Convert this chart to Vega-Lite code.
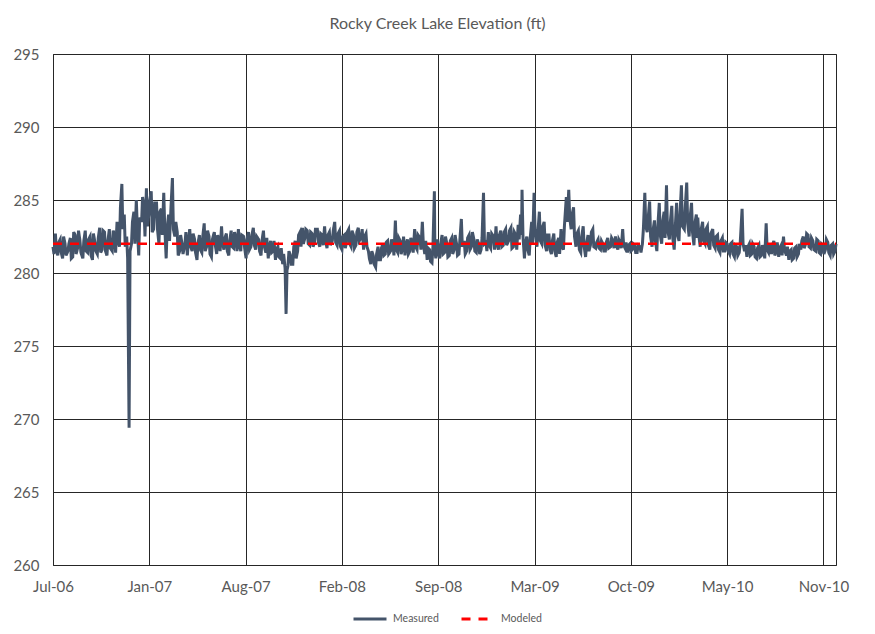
{
"$schema":"https://vega.github.io/schema/vega-lite/v6.json",
"width":783,"height":511,
"autosize":"none",
"padding":{"left":53,"top":54,"right":39,"bottom":69},
"background":"white",
"title":{"text":"Rocky Creek Lake Elevation (ft)","font":"Lato","fontSize":16,"fontWeight":"normal","color":"#595959","offset":15,"dx":-7},
"config":{"view":{"stroke":"#262626","strokeWidth":1},
"axis":{"gridColor":"#262626","gridWidth":1,"gridOpacity":1,"ticks":false,"domain":false,"labelFont":"Lato","labelFontSize":15,"labelColor":"#595959","title":null},
"legend":{"labelFont":"Lato","labelFontSize":10.5,"labelColor":"#595959"}},
"datasets":{
"measured":[
{"date":"2006-07-01","v":281.8},{"date":"2006-07-03","v":281.3},{"date":"2006-07-06","v":282.7},{"date":"2006-07-08","v":281.6},{"date":"2006-07-11","v":281.2},{"date":"2006-07-13","v":282.1},{"date":"2006-07-16","v":282.3},{"date":"2006-07-18","v":281.4},{"date":"2006-07-21","v":281.0},{"date":"2006-07-23","v":282.5},{"date":"2006-07-26","v":282.0},{"date":"2006-07-28","v":281.2},
{"date":"2006-08-01","v":281.5},{"date":"2006-08-03","v":282.0},{"date":"2006-08-06","v":282.4},{"date":"2006-08-08","v":281.0},{"date":"2006-08-11","v":281.1},{"date":"2006-08-13","v":282.8},{"date":"2006-08-16","v":282.6},{"date":"2006-08-18","v":281.3},{"date":"2006-08-21","v":281.7},{"date":"2006-08-23","v":282.9},{"date":"2006-08-26","v":282.2},{"date":"2006-08-28","v":281.4},
{"date":"2006-09-01","v":281.0},{"date":"2006-09-03","v":282.2},{"date":"2006-09-06","v":282.9},{"date":"2006-09-08","v":281.5},{"date":"2006-09-11","v":281.4},{"date":"2006-09-13","v":282.3},{"date":"2006-09-16","v":282.5},{"date":"2006-09-18","v":281.2},{"date":"2006-09-21","v":280.9},{"date":"2006-09-23","v":282.7},{"date":"2006-09-26","v":282.1},{"date":"2006-09-28","v":281.5},
{"date":"2006-10-01","v":281.3},{"date":"2006-10-03","v":282.4},{"date":"2006-10-06","v":283.1},{"date":"2006-10-08","v":281.4},{"date":"2006-10-11","v":281.6},{"date":"2006-10-13","v":282.9},{"date":"2006-10-16","v":282.8},{"date":"2006-10-18","v":281.5},{"date":"2006-10-21","v":281.2},{"date":"2006-10-23","v":282.2},{"date":"2006-10-26","v":283.0},{"date":"2006-10-28","v":281.7},
{"date":"2006-11-01","v":281.5},{"date":"2006-11-03","v":282.9},{"date":"2006-11-06","v":282.6},{"date":"2006-11-08","v":281.4},{"date":"2006-11-11","v":283.5},{"date":"2006-11-13","v":282.2},{"date":"2006-11-16","v":281.8},{"date":"2006-11-18","v":284.5},{"date":"2006-11-21","v":286.1},{"date":"2006-11-23","v":283.0},{"date":"2006-11-26","v":284.0},{"date":"2006-11-28","v":281.8},
{"date":"2006-12-01","v":282.5},{"date":"2006-12-03","v":281.0},{"date":"2006-12-06","v":269.4},{"date":"2006-12-08","v":281.5},{"date":"2006-12-11","v":282.0},{"date":"2006-12-13","v":283.5},{"date":"2006-12-16","v":284.2},{"date":"2006-12-18","v":282.0},{"date":"2006-12-21","v":285.0},{"date":"2006-12-23","v":283.2},{"date":"2006-12-26","v":281.2},{"date":"2006-12-28","v":283.8},
{"date":"2007-01-01","v":283.5},{"date":"2007-01-03","v":285.2},{"date":"2007-01-06","v":284.5},{"date":"2007-01-08","v":282.5},{"date":"2007-01-11","v":285.8},{"date":"2007-01-13","v":283.2},{"date":"2007-01-16","v":284.0},{"date":"2007-01-18","v":285.0},{"date":"2007-01-21","v":285.6},{"date":"2007-01-23","v":282.8},{"date":"2007-01-26","v":283.0},{"date":"2007-01-28","v":284.8},
{"date":"2007-02-01","v":284.8},{"date":"2007-02-03","v":283.0},{"date":"2007-02-06","v":282.0},{"date":"2007-02-08","v":284.2},{"date":"2007-02-11","v":284.4},{"date":"2007-02-13","v":282.6},{"date":"2007-02-16","v":285.5},{"date":"2007-02-18","v":283.2},{"date":"2007-02-21","v":281.0},{"date":"2007-02-23","v":283.0},{"date":"2007-02-26","v":284.0},{"date":"2007-02-28","v":282.2},
{"date":"2007-03-01","v":283.0},{"date":"2007-03-03","v":284.5},{"date":"2007-03-06","v":286.5},{"date":"2007-03-08","v":283.0},{"date":"2007-03-11","v":282.5},{"date":"2007-03-13","v":283.5},{"date":"2007-03-16","v":282.8},{"date":"2007-03-18","v":281.2},{"date":"2007-03-21","v":281.5},{"date":"2007-03-23","v":282.6},{"date":"2007-03-26","v":282.0},{"date":"2007-03-28","v":281.3},
{"date":"2007-04-01","v":282.0},{"date":"2007-04-03","v":282.8},{"date":"2007-04-06","v":281.2},{"date":"2007-04-08","v":282.1},{"date":"2007-04-11","v":283.0},{"date":"2007-04-13","v":281.8},{"date":"2007-04-16","v":281.5},{"date":"2007-04-18","v":282.7},{"date":"2007-04-21","v":282.3},{"date":"2007-04-23","v":281.4},{"date":"2007-04-26","v":280.9},{"date":"2007-04-28","v":282.0},
{"date":"2007-05-01","v":282.6},{"date":"2007-05-03","v":281.6},{"date":"2007-05-06","v":281.4},{"date":"2007-05-08","v":282.5},{"date":"2007-05-11","v":283.4},{"date":"2007-05-13","v":281.5},{"date":"2007-05-16","v":281.8},{"date":"2007-05-18","v":282.9},{"date":"2007-05-21","v":282.5},{"date":"2007-05-23","v":281.3},{"date":"2007-05-26","v":281.1},{"date":"2007-05-28","v":282.3},
{"date":"2007-06-01","v":282.8},{"date":"2007-06-03","v":281.9},{"date":"2007-06-06","v":281.3},{"date":"2007-06-08","v":282.6},{"date":"2007-06-11","v":282.2},{"date":"2007-06-13","v":281.5},{"date":"2007-06-16","v":283.2},{"date":"2007-06-18","v":282.0},{"date":"2007-06-21","v":281.6},{"date":"2007-06-23","v":282.4},{"date":"2007-06-26","v":282.7},{"date":"2007-06-28","v":281.5},
{"date":"2007-07-01","v":281.2},{"date":"2007-07-03","v":282.2},{"date":"2007-07-06","v":282.9},{"date":"2007-07-08","v":281.8},{"date":"2007-07-11","v":281.7},{"date":"2007-07-13","v":282.8},{"date":"2007-07-16","v":282.4},{"date":"2007-07-18","v":281.5},{"date":"2007-07-21","v":283.0},{"date":"2007-07-23","v":281.9},{"date":"2007-07-26","v":281.5},{"date":"2007-07-28","v":282.6},
{"date":"2007-08-01","v":282.5},{"date":"2007-08-03","v":281.7},{"date":"2007-08-06","v":281.0},{"date":"2007-08-08","v":282.3},{"date":"2007-08-11","v":282.8},{"date":"2007-08-13","v":281.6},{"date":"2007-08-16","v":281.8},{"date":"2007-08-18","v":282.6},{"date":"2007-08-21","v":283.1},{"date":"2007-08-23","v":281.9},{"date":"2007-08-26","v":281.6},{"date":"2007-08-28","v":282.5},
{"date":"2007-09-01","v":282.3},{"date":"2007-09-03","v":281.5},{"date":"2007-09-06","v":281.2},{"date":"2007-09-08","v":282.2},{"date":"2007-09-11","v":282.9},{"date":"2007-09-13","v":281.8},{"date":"2007-09-16","v":281.4},{"date":"2007-09-18","v":282.4},{"date":"2007-09-21","v":281.0},{"date":"2007-09-23","v":281.8},{"date":"2007-09-26","v":282.2},{"date":"2007-09-28","v":281.4},
{"date":"2007-10-01","v":281.5},{"date":"2007-10-03","v":282.2},{"date":"2007-10-06","v":280.9},{"date":"2007-10-08","v":281.6},{"date":"2007-10-11","v":281.8},{"date":"2007-10-13","v":281.1},{"date":"2007-10-16","v":281.0},{"date":"2007-10-18","v":281.7},{"date":"2007-10-21","v":280.6},{"date":"2007-10-23","v":281.3},{"date":"2007-10-26","v":280.3},{"date":"2007-10-28","v":277.2},{"date":"2007-10-30","v":280.2},
{"date":"2007-11-01","v":280.5},{"date":"2007-11-03","v":281.5},{"date":"2007-11-06","v":281.2},{"date":"2007-11-08","v":280.6},{"date":"2007-11-11","v":280.6},{"date":"2007-11-13","v":281.8},{"date":"2007-11-16","v":282.2},{"date":"2007-11-18","v":281.0},{"date":"2007-11-21","v":281.5},{"date":"2007-11-23","v":282.6},{"date":"2007-11-26","v":282.8},{"date":"2007-11-28","v":281.8},
{"date":"2007-12-01","v":283.1},{"date":"2007-12-03","v":282.0},{"date":"2007-12-06","v":282.4},{"date":"2007-12-08","v":283.0},{"date":"2007-12-11","v":282.9},{"date":"2007-12-13","v":282.0},{"date":"2007-12-16","v":281.9},{"date":"2007-12-18","v":282.8},{"date":"2007-12-21","v":282.7},{"date":"2007-12-23","v":281.8},{"date":"2007-12-26","v":282.1},{"date":"2007-12-28","v":283.0},
{"date":"2008-01-01","v":283.0},{"date":"2008-01-03","v":282.1},{"date":"2008-01-06","v":281.8},{"date":"2008-01-08","v":282.7},{"date":"2008-01-11","v":282.6},{"date":"2008-01-13","v":281.9},{"date":"2008-01-16","v":283.2},{"date":"2008-01-18","v":282.2},{"date":"2008-01-21","v":281.7},{"date":"2008-01-23","v":282.6},{"date":"2008-01-26","v":282.8},{"date":"2008-01-28","v":281.9},
{"date":"2008-02-01","v":282.2},{"date":"2008-02-03","v":282.9},{"date":"2008-02-06","v":283.5},{"date":"2008-02-08","v":282.1},{"date":"2008-02-11","v":281.9},{"date":"2008-02-13","v":282.7},{"date":"2008-02-16","v":282.9},{"date":"2008-02-18","v":281.8},{"date":"2008-02-21","v":281.6},{"date":"2008-02-23","v":282.5},{"date":"2008-02-26","v":282.6},{"date":"2008-02-28","v":281.7},
{"date":"2008-03-01","v":282.0},{"date":"2008-03-03","v":282.8},{"date":"2008-03-06","v":283.0},{"date":"2008-03-08","v":282.0},{"date":"2008-03-11","v":281.8},{"date":"2008-03-13","v":282.9},{"date":"2008-03-16","v":282.6},{"date":"2008-03-18","v":281.7},{"date":"2008-03-21","v":281.9},{"date":"2008-03-23","v":282.8},{"date":"2008-03-26","v":283.1},{"date":"2008-03-28","v":282.2},
{"date":"2008-04-01","v":282.4},{"date":"2008-04-03","v":283.0},{"date":"2008-04-06","v":281.6},{"date":"2008-04-08","v":282.5},{"date":"2008-04-11","v":282.7},{"date":"2008-04-13","v":281.8},{"date":"2008-04-16","v":281.5},{"date":"2008-04-18","v":281.0},{"date":"2008-04-21","v":280.6},{"date":"2008-04-23","v":281.5},{"date":"2008-04-26","v":281.2},{"date":"2008-04-28","v":280.6},
{"date":"2008-05-01","v":280.4},{"date":"2008-05-03","v":281.3},{"date":"2008-05-06","v":281.8},{"date":"2008-05-08","v":280.9},{"date":"2008-05-11","v":280.9},{"date":"2008-05-13","v":281.7},{"date":"2008-05-16","v":282.0},{"date":"2008-05-18","v":281.2},{"date":"2008-05-21","v":281.3},{"date":"2008-05-23","v":282.1},{"date":"2008-05-26","v":282.2},{"date":"2008-05-28","v":281.3},
{"date":"2008-06-01","v":281.5},{"date":"2008-06-03","v":282.3},{"date":"2008-06-06","v":282.0},{"date":"2008-06-08","v":281.2},{"date":"2008-06-11","v":283.6},{"date":"2008-06-13","v":281.6},{"date":"2008-06-16","v":281.4},{"date":"2008-06-18","v":282.4},{"date":"2008-06-21","v":282.2},{"date":"2008-06-23","v":281.3},{"date":"2008-06-26","v":281.7},{"date":"2008-06-28","v":282.5},
{"date":"2008-07-01","v":281.2},{"date":"2008-07-03","v":281.9},{"date":"2008-07-06","v":282.3},{"date":"2008-07-08","v":281.3},{"date":"2008-07-11","v":281.5},{"date":"2008-07-13","v":282.4},{"date":"2008-07-16","v":282.1},{"date":"2008-07-18","v":281.4},{"date":"2008-07-21","v":283.0},{"date":"2008-07-23","v":281.8},{"date":"2008-07-26","v":281.6},{"date":"2008-07-28","v":282.6},
{"date":"2008-08-01","v":282.4},{"date":"2008-08-03","v":281.6},{"date":"2008-08-06","v":283.5},{"date":"2008-08-08","v":282.0},{"date":"2008-08-11","v":281.3},{"date":"2008-08-13","v":282.2},{"date":"2008-08-16","v":280.9},{"date":"2008-08-18","v":281.7},{"date":"2008-08-21","v":281.6},{"date":"2008-08-23","v":280.8},{"date":"2008-08-26","v":280.7},{"date":"2008-08-28","v":281.8},{"date":"2008-08-31","v":285.6},
{"date":"2008-09-01","v":281.5},{"date":"2008-09-03","v":281.0},{"date":"2008-09-06","v":282.3},{"date":"2008-09-08","v":281.4},{"date":"2008-09-11","v":281.0},{"date":"2008-09-13","v":282.0},{"date":"2008-09-16","v":282.6},{"date":"2008-09-18","v":281.3},{"date":"2008-09-21","v":281.4},{"date":"2008-09-23","v":282.5},{"date":"2008-09-26","v":282.0},{"date":"2008-09-28","v":281.1},
{"date":"2008-10-01","v":281.2},{"date":"2008-10-03","v":282.2},{"date":"2008-10-06","v":282.4},{"date":"2008-10-08","v":281.3},{"date":"2008-10-11","v":281.6},{"date":"2008-10-13","v":282.6},{"date":"2008-10-16","v":282.0},{"date":"2008-10-18","v":281.2},{"date":"2008-10-21","v":281.3},{"date":"2008-10-23","v":282.3},{"date":"2008-10-26","v":283.7},{"date":"2008-10-28","v":281.8},
{"date":"2008-11-01","v":282.2},{"date":"2008-11-03","v":281.3},{"date":"2008-11-06","v":281.5},{"date":"2008-11-08","v":282.4},{"date":"2008-11-11","v":282.6},{"date":"2008-11-13","v":281.6},{"date":"2008-11-16","v":281.8},{"date":"2008-11-18","v":282.8},{"date":"2008-11-21","v":282.3},{"date":"2008-11-23","v":281.5},{"date":"2008-11-26","v":281.4},{"date":"2008-11-28","v":282.3},
{"date":"2008-12-01","v":282.0},{"date":"2008-12-03","v":281.3},{"date":"2008-12-06","v":281.6},{"date":"2008-12-08","v":282.4},{"date":"2008-12-11","v":285.5},{"date":"2008-12-13","v":282.0},{"date":"2008-12-16","v":282.1},{"date":"2008-12-18","v":281.5},{"date":"2008-12-21","v":282.8},{"date":"2008-12-23","v":281.9},{"date":"2008-12-26","v":281.7},{"date":"2008-12-28","v":282.7},
{"date":"2009-01-01","v":282.5},{"date":"2009-01-03","v":281.6},{"date":"2009-01-06","v":283.2},{"date":"2009-01-08","v":282.0},{"date":"2009-01-11","v":281.6},{"date":"2009-01-13","v":282.6},{"date":"2009-01-16","v":282.9},{"date":"2009-01-18","v":281.8},{"date":"2009-01-21","v":281.9},{"date":"2009-01-23","v":282.8},{"date":"2009-01-26","v":283.0},{"date":"2009-01-28","v":281.9},
{"date":"2009-02-01","v":282.2},{"date":"2009-02-03","v":282.9},{"date":"2009-02-06","v":283.1},{"date":"2009-02-08","v":281.7},{"date":"2009-02-11","v":281.8},{"date":"2009-02-13","v":282.8},{"date":"2009-02-16","v":282.6},{"date":"2009-02-18","v":281.6},{"date":"2009-02-21","v":283.3},{"date":"2009-02-23","v":282.3},{"date":"2009-02-26","v":284.0},{"date":"2009-02-28","v":282.6},
{"date":"2009-03-01","v":285.7},{"date":"2009-03-03","v":282.5},{"date":"2009-03-06","v":281.0},{"date":"2009-03-08","v":282.0},{"date":"2009-03-11","v":282.5},{"date":"2009-03-13","v":281.6},{"date":"2009-03-16","v":281.2},{"date":"2009-03-18","v":282.4},{"date":"2009-03-21","v":283.5},{"date":"2009-03-23","v":282.0},{"date":"2009-03-26","v":285.5},{"date":"2009-03-28","v":283.0},
{"date":"2009-04-01","v":281.8},{"date":"2009-04-03","v":282.8},{"date":"2009-04-06","v":284.2},{"date":"2009-04-08","v":282.2},{"date":"2009-04-11","v":282.0},{"date":"2009-04-13","v":283.2},{"date":"2009-04-16","v":283.5},{"date":"2009-04-18","v":281.9},{"date":"2009-04-21","v":281.5},{"date":"2009-04-23","v":282.6},{"date":"2009-04-26","v":282.6},{"date":"2009-04-28","v":281.6},
{"date":"2009-05-01","v":281.3},{"date":"2009-05-03","v":282.2},{"date":"2009-05-06","v":282.7},{"date":"2009-05-08","v":281.5},{"date":"2009-05-11","v":281.1},{"date":"2009-05-13","v":282.1},{"date":"2009-05-16","v":282.4},{"date":"2009-05-18","v":281.3},{"date":"2009-05-21","v":283.0},{"date":"2009-05-23","v":281.8},{"date":"2009-05-26","v":281.6},{"date":"2009-05-28","v":283.2},
{"date":"2009-06-01","v":285.2},{"date":"2009-06-03","v":283.5},{"date":"2009-06-06","v":285.7},{"date":"2009-06-08","v":283.8},{"date":"2009-06-11","v":283.0},{"date":"2009-06-13","v":284.0},{"date":"2009-06-16","v":284.5},{"date":"2009-06-18","v":282.5},{"date":"2009-06-21","v":281.8},{"date":"2009-06-23","v":282.7},{"date":"2009-06-26","v":282.9},{"date":"2009-06-28","v":281.6},
{"date":"2009-07-01","v":281.4},{"date":"2009-07-03","v":282.5},{"date":"2009-07-06","v":283.2},{"date":"2009-07-08","v":281.8},{"date":"2009-07-11","v":281.1},{"date":"2009-07-13","v":282.0},{"date":"2009-07-16","v":282.6},{"date":"2009-07-18","v":281.5},{"date":"2009-07-21","v":281.9},{"date":"2009-07-23","v":282.8},{"date":"2009-07-26","v":283.0},{"date":"2009-07-28","v":281.8},
{"date":"2009-08-01","v":281.7},{"date":"2009-08-03","v":282.1},{"date":"2009-08-06","v":282.3},{"date":"2009-08-08","v":281.7},{"date":"2009-08-11","v":281.6},{"date":"2009-08-13","v":282.2},{"date":"2009-08-16","v":282.0},{"date":"2009-08-18","v":281.5},{"date":"2009-08-21","v":281.5},{"date":"2009-08-23","v":282.1},{"date":"2009-08-26","v":282.4},{"date":"2009-08-28","v":281.7},
{"date":"2009-09-01","v":281.8},{"date":"2009-09-03","v":282.4},{"date":"2009-09-06","v":282.2},{"date":"2009-09-08","v":281.7},{"date":"2009-09-11","v":282.5},{"date":"2009-09-13","v":281.9},{"date":"2009-09-16","v":281.6},{"date":"2009-09-18","v":282.3},{"date":"2009-09-21","v":282.1},{"date":"2009-09-23","v":281.7},{"date":"2009-09-26","v":283.0},{"date":"2009-09-28","v":281.9},
{"date":"2009-10-01","v":281.7},{"date":"2009-10-03","v":282.1},{"date":"2009-10-06","v":281.4},{"date":"2009-10-08","v":281.9},{"date":"2009-10-11","v":282.0},{"date":"2009-10-13","v":281.5},{"date":"2009-10-16","v":281.6},{"date":"2009-10-18","v":282.0},{"date":"2009-10-21","v":281.9},{"date":"2009-10-23","v":281.4},{"date":"2009-10-26","v":281.4},{"date":"2009-10-28","v":281.9},
{"date":"2009-11-01","v":281.8},{"date":"2009-11-03","v":281.4},{"date":"2009-11-06","v":282.0},{"date":"2009-11-08","v":283.0},{"date":"2009-11-11","v":285.5},{"date":"2009-11-13","v":283.2},{"date":"2009-11-16","v":282.8},{"date":"2009-11-18","v":283.8},{"date":"2009-11-21","v":284.9},{"date":"2009-11-23","v":282.5},{"date":"2009-11-26","v":281.8},{"date":"2009-11-28","v":282.9},
{"date":"2009-12-01","v":283.6},{"date":"2009-12-03","v":282.2},{"date":"2009-12-06","v":281.5},{"date":"2009-12-08","v":283.2},{"date":"2009-12-11","v":284.8},{"date":"2009-12-13","v":282.6},{"date":"2009-12-16","v":282.0},{"date":"2009-12-18","v":283.5},{"date":"2009-12-21","v":284.2},{"date":"2009-12-23","v":282.4},{"date":"2009-12-26","v":286.0},{"date":"2009-12-28","v":283.0},
{"date":"2010-01-01","v":282.3},{"date":"2010-01-03","v":283.5},{"date":"2010-01-06","v":284.6},{"date":"2010-01-08","v":282.4},{"date":"2010-01-11","v":281.6},{"date":"2010-01-13","v":283.0},{"date":"2010-01-16","v":284.8},{"date":"2010-01-18","v":282.6},{"date":"2010-01-21","v":282.2},{"date":"2010-01-23","v":284.0},{"date":"2010-01-26","v":286.0},{"date":"2010-01-28","v":283.2},
{"date":"2010-02-01","v":283.0},{"date":"2010-02-03","v":284.5},{"date":"2010-02-06","v":286.2},{"date":"2010-02-08","v":283.4},{"date":"2010-02-11","v":282.5},{"date":"2010-02-13","v":283.8},{"date":"2010-02-16","v":284.8},{"date":"2010-02-18","v":282.8},{"date":"2010-02-21","v":281.9},{"date":"2010-02-23","v":283.4},{"date":"2010-02-26","v":284.0},{"date":"2010-02-28","v":282.4},
{"date":"2010-03-01","v":283.8},{"date":"2010-03-03","v":282.6},{"date":"2010-03-06","v":281.8},{"date":"2010-03-08","v":283.0},{"date":"2010-03-11","v":283.5},{"date":"2010-03-13","v":282.2},{"date":"2010-03-16","v":282.0},{"date":"2010-03-18","v":283.0},{"date":"2010-03-21","v":283.2},{"date":"2010-03-23","v":281.9},{"date":"2010-03-26","v":281.6},{"date":"2010-03-28","v":282.7},
{"date":"2010-04-01","v":283.0},{"date":"2010-04-03","v":281.9},{"date":"2010-04-06","v":281.7},{"date":"2010-04-08","v":282.5},{"date":"2010-04-11","v":282.6},{"date":"2010-04-13","v":281.6},{"date":"2010-04-16","v":281.4},{"date":"2010-04-18","v":282.2},{"date":"2010-04-21","v":282.4},{"date":"2010-04-23","v":281.5},{"date":"2010-04-26","v":281.5},{"date":"2010-04-28","v":282.1},
{"date":"2010-05-01","v":282.0},{"date":"2010-05-03","v":281.5},{"date":"2010-05-06","v":281.3},{"date":"2010-05-08","v":282.0},{"date":"2010-05-11","v":282.1},{"date":"2010-05-13","v":281.3},{"date":"2010-05-16","v":281.1},{"date":"2010-05-18","v":281.9},{"date":"2010-05-21","v":281.8},{"date":"2010-05-23","v":281.2},{"date":"2010-05-26","v":281.4},{"date":"2010-05-28","v":282.0},
{"date":"2010-06-01","v":284.4},{"date":"2010-06-03","v":282.0},{"date":"2010-06-06","v":281.5},{"date":"2010-06-08","v":281.9},{"date":"2010-06-11","v":281.1},{"date":"2010-06-13","v":281.8},{"date":"2010-06-16","v":282.0},{"date":"2010-06-18","v":281.2},{"date":"2010-06-21","v":281.3},{"date":"2010-06-23","v":282.0},{"date":"2010-06-26","v":281.8},{"date":"2010-06-28","v":281.1},
{"date":"2010-07-01","v":281.0},{"date":"2010-07-03","v":281.7},{"date":"2010-07-06","v":281.9},{"date":"2010-07-08","v":281.1},{"date":"2010-07-11","v":281.2},{"date":"2010-07-13","v":281.9},{"date":"2010-07-16","v":281.6},{"date":"2010-07-18","v":281.0},{"date":"2010-07-21","v":283.4},{"date":"2010-07-23","v":281.6},{"date":"2010-07-26","v":281.4},{"date":"2010-07-28","v":282.0},
{"date":"2010-08-01","v":281.3},{"date":"2010-08-03","v":281.9},{"date":"2010-08-06","v":282.2},{"date":"2010-08-08","v":281.2},{"date":"2010-08-11","v":281.5},{"date":"2010-08-13","v":282.1},{"date":"2010-08-16","v":281.1},{"date":"2010-08-18","v":281.7},{"date":"2010-08-21","v":281.9},{"date":"2010-08-23","v":281.2},{"date":"2010-08-26","v":282.5},{"date":"2010-08-28","v":281.6},
{"date":"2010-09-01","v":281.2},{"date":"2010-09-03","v":281.8},{"date":"2010-09-06","v":280.9},{"date":"2010-09-08","v":281.5},{"date":"2010-09-11","v":281.6},{"date":"2010-09-13","v":280.9},{"date":"2010-09-16","v":281.0},{"date":"2010-09-18","v":281.7},{"date":"2010-09-21","v":281.8},{"date":"2010-09-23","v":281.1},{"date":"2010-09-26","v":281.3},{"date":"2010-09-28","v":282.0},
{"date":"2010-10-01","v":281.6},{"date":"2010-10-03","v":282.2},{"date":"2010-10-06","v":282.5},{"date":"2010-10-08","v":281.7},{"date":"2010-10-11","v":282.0},{"date":"2010-10-13","v":282.7},{"date":"2010-10-16","v":282.6},{"date":"2010-10-18","v":281.8},{"date":"2010-10-21","v":281.7},{"date":"2010-10-23","v":282.4},{"date":"2010-10-26","v":282.2},{"date":"2010-10-28","v":281.6},
{"date":"2010-11-01","v":281.5},{"date":"2010-11-03","v":282.3},{"date":"2010-11-06","v":282.2},{"date":"2010-11-08","v":281.4},{"date":"2010-11-11","v":281.3},{"date":"2010-11-13","v":282.0},{"date":"2010-11-16","v":281.9},{"date":"2010-11-18","v":281.3},{"date":"2010-11-21","v":281.6},{"date":"2010-11-23","v":282.3},{"date":"2010-11-26","v":282.1},{"date":"2010-11-28","v":281.4},
{"date":"2010-12-01","v":281.2},{"date":"2010-12-03","v":281.9},{"date":"2010-12-06","v":282.0},{"date":"2010-12-08","v":281.3},{"date":"2010-12-11","v":281.5},{"date":"2010-12-13","v":282.0}
],
"modeled":[{"date":"2006-07-01","v":282},{"date":"2010-12-13","v":282}]
},
"encoding":{
"x":{"field":"date","type":"temporal",
"scale":{"type":"utc","nice":false,"domain":[{"year":2006,"month":7,"date":1,"utc":true},{"year":2010,"month":12,"date":13,"utc":true}]},
"axis":{"format":"%b-%y","labelFlush":false,"labelOverlap":false,"labelPadding":14,"grid":true,
"values":[{"year":2006,"month":7,"date":1,"utc":true},{"year":2007,"month":1,"date":17,"utc":true},{"year":2007,"month":8,"date":5,"utc":true},{"year":2008,"month":2,"date":21,"utc":true},{"year":2008,"month":9,"date":8,"utc":true},{"year":2009,"month":3,"date":27,"utc":true},{"year":2009,"month":10,"date":13,"utc":true},{"year":2010,"month":5,"date":1,"utc":true},{"year":2010,"month":11,"date":17,"utc":true}]}},
"y":{"field":"v","type":"quantitative",
"scale":{"domain":[260,295],"nice":false,"zero":false},
"axis":{"values":[260,265,270,275,280,285,290,295],"labelPadding":14,"grid":true}}
},
"layer":[
{"data":{"name":"measured"},"mark":{"type":"line","strokeWidth":3},
"encoding":{
"color":{"datum":"Measured","scale":{"domain":["Measured","Modeled"],"range":["#44546A","#FF0000"]},
"legend":{"title":null,"orient":"none","direction":"horizontal","legendX":299,"legendY":547,"symbolType":"stroke","symbolSize":1089,"symbolStrokeWidth":3,"labelOffset":5,"columnPadding":16}},
"strokeDash":{"datum":"Measured","scale":{"domain":["Measured","Modeled"],"range":[[1,0],[9,8]]}}}},
{"data":{"name":"modeled"},"mark":{"type":"line","strokeWidth":2.5},
"encoding":{
"color":{"datum":"Modeled"},
"strokeDash":{"datum":"Modeled"}}}
]
}
